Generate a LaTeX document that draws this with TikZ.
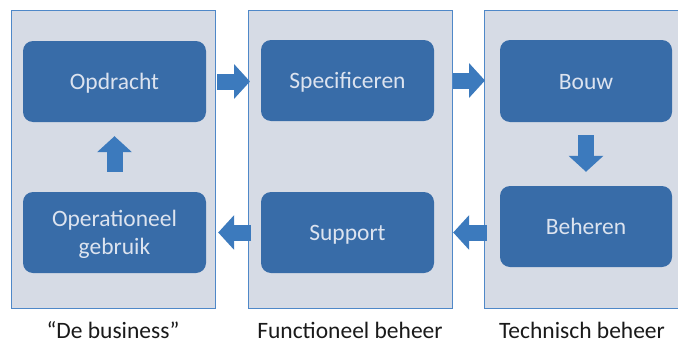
\documentclass[tikz,border=0pt]{standalone}
\usepackage{fontspec}
\setmainfont{Carlito}
\usetikzlibrary{arrows.meta}
\definecolor{panelfill}{HTML}{D6DBE5}
\definecolor{paneldraw}{HTML}{4F88C8}
\definecolor{boxfill}{HTML}{386CA8}
\definecolor{boxtext}{HTML}{DCE3EF}
\definecolor{arrowcol}{HTML}{3C7ABD}
\definecolor{labeltext}{HTML}{1A1A1A}
\begin{document}
\begin{tikzpicture}[x=1pt,y=-1pt,
  panel/.style={draw=paneldraw, line width=1.2pt, fill=panelfill, anchor=north west, inner sep=0pt},
  stepbox/.style={fill=boxfill, rounded corners=10pt, text=boxtext, align=center, inner sep=0pt,
     font=\fontsize{23.5}{28.7}\selectfont, text height=16pt, text depth=0pt},
  twoline/.style={text height=44.7pt, text depth=0pt},
  barrow/.style={draw=arrowcol, line width=16pt, -{Triangle[length=16pt,width=34pt]}},
  caption/.style={text=labeltext, anchor=base, font=\fontsize{23.5}{28.7}\selectfont}]
\useasboundingbox (0,0) rectangle (678,343);
\clip (0,0) rectangle (678,343);
% panels
\node[panel, minimum width=204pt, minimum height=298pt] (pl) at (11,10) {};
\node[panel, minimum width=204pt, minimum height=298pt] (pm) at (248,10) {};
\node[panel, minimum width=206pt, minimum height=298pt] (pr) at (484,10) {};
% boxes
\node[stepbox, minimum width=183pt, minimum height=81pt] (opd) at (114.5,81.5) {Opdracht};
\node[stepbox, twoline, minimum width=183pt, minimum height=81pt] (oper) at (114.5,232.5) {Operationeel\\gebruik};
\node[stepbox, minimum width=173pt, minimum height=81pt] (spec) at (347.5,80.5) {Specificeren};
\node[stepbox, minimum width=173pt, minimum height=81pt] (sup) at (347.5,232.5) {Support};
\node[stepbox, minimum width=172pt, minimum height=82pt] (bouw) at (586,81) {Bouw};
\node[stepbox, minimum width=172pt, minimum height=81pt] (beh) at (586,226.5) {Beheren};
% arrows
\draw[barrow] ([xshift=1pt]pl.east |- opd) -- ([xshift=2pt]pm.west |- opd);
\draw[barrow] (pm.east |- spec) -- ([xshift=1pt]pr.west |- spec);
\draw[barrow] ([xshift=3pt]pm.west |- sup) -- ([xshift=2pt]pl.east |- sup);
\draw[barrow] ([xshift=3pt]pr.west |- sup) -- (pm.east |- sup);
\draw[barrow] ([yshift=20pt]oper.north) -- ([yshift=-14pt]opd.south);
\draw[barrow] ([yshift=-13pt]bouw.south) -- ([yshift=14pt]beh.north);
% captions
\node[caption] (c1) at (113,338) {“De business”};
\node[caption] (c2) at (350,338) {Functioneel beheer};
\node[caption] (c3) at (582,338) {Technisch beheer};
\end{tikzpicture}
\end{document}
